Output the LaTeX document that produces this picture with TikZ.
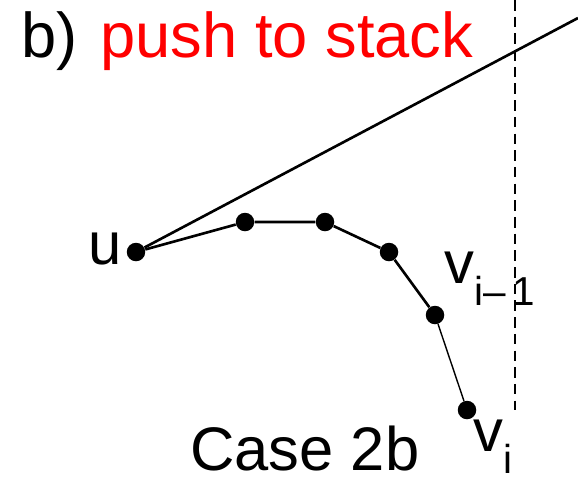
\documentclass[tikz,border=0pt]{standalone}
\usepackage{fontspec}
\setmainfont{Liberation Sans}
\usetikzlibrary{positioning}

\begin{document}
\begin{tikzpicture}[
  x=0.02cm,y=-0.02cm,
  dot/.style={circle,fill=black,inner sep=0pt,minimum size=0.37cm},
  chain/.style={line width=1.5pt},
  lbl/.style={inner sep=0pt,font=\fontsize{34}{40}\selectfont}
]
\useasboundingbox (0,0) rectangle (578,481);

% sweep line
\draw[line width=1.1pt,dash pattern=on 6pt off 3.5pt] (515,0) -- (515,410);

% points of the chain
\node[dot] (u) at (136,252) {};
\node[dot] (a) at (245,222) {};
\node[dot] (b) at (325,222) {};
\node[dot] (c) at (389,252) {};
\node[dot] (vprev) at (435,315) {};
\node[dot] (vi) at (467,410) {};
\coordinate (far) at (578,18);

\draw[chain] (u) -- (far);
\draw[chain] (u) -- (a) -- (b) -- (c) -- (vprev);
\draw[line width=0.8pt] (vprev) -- (vi);

% labels
\node[lbl,anchor=base west,font=\fontsize{36}{42}\selectfont] (title) at (21,57) {b)\hspace{3pt} \textcolor{red}{push to stack}};
\node[lbl,anchor=base east] (ulbl) at (122,264) {u};
\node[lbl,anchor=base west] (vprevlbl) at (444,283) {v\raisebox{-0.37em}{\fontsize{23}{27}\selectfont i–\,1}};
\node[lbl,anchor=base west] (vilbl) at (473,451) {v\raisebox{-0.37em}{\fontsize{23}{27}\selectfont i}};
\node[lbl,anchor=base west,font=\fontsize{35}{41}\selectfont] (case) at (190,470) {Case 2b};
\end{tikzpicture}
\end{document}
